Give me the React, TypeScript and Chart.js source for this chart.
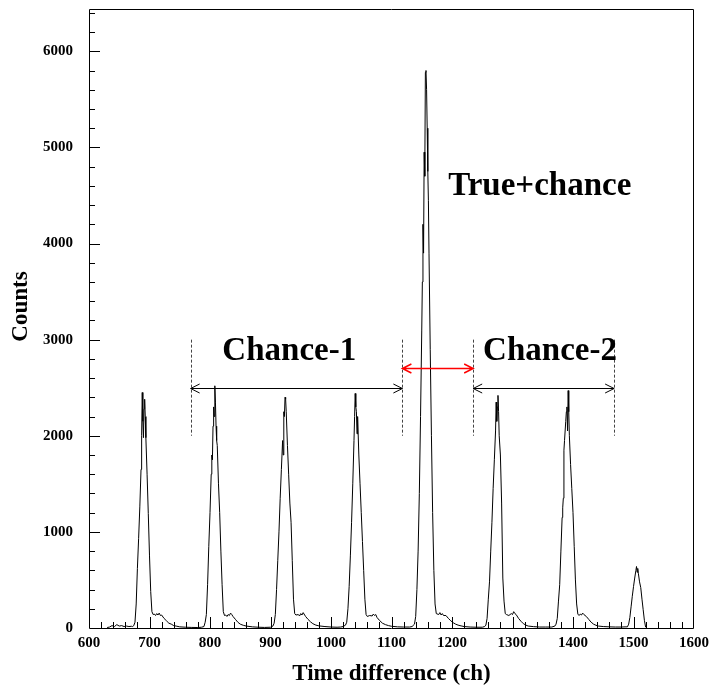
import React, { useEffect, useRef } from "react";
import { Chart, registerables } from "chart.js";

Chart.register(...registerables);

const FONT = '"Liberation Serif", "Times New Roman", serif';

// ---- axes ----
const xTicks = [600, 700, 800, 900, 1000, 1100, 1200, 1300, 1400, 1500, 1600];
const yTicks = [0, 1000, 2000, 3000, 4000, 5000, 6000];
const xRange = [600, 1600];
const yRange = [0, 6440];
const xMinorStep = 20;
const yMinorStep = 200;
const xTitle = "Time difference (ch)";
const yTitle = "Counts";

// ---- histogram (channel, counts) ----
const chLead = [630, 634, 638, 642, 646, 650, 654, 658, 662, 666, 670];
const cntLead = [5, 10, 25, 15, 35, 20, 25, 15, 20, 15, 18];

const ch690 = [672, 674, 676, 678, 680, 682, 684, 686, 687, 688, 689, 690, 691, 692, 693, 694, 696, 698, 700, 702, 704, 706, 708, 710, 712, 714, 716, 718, 720, 724, 728, 732, 736, 740, 744, 750, 760, 770, 780];
const cnt690 = [15, 25, 60, 250, 620, 930, 1260, 1650, 2000, 2450, 2150, 1980, 2280, 2380, 2200, 1980, 1600, 1190, 750, 380, 170, 140, 145, 130, 150, 135, 155, 130, 135, 100, 75, 50, 40, 25, 20, 12, 8, 6, 5];

const ch808 = [786, 790, 792, 794, 796, 798, 800, 802, 803, 804, 805, 806, 807, 808, 809, 810, 811, 812, 814, 816, 818, 820, 822, 824, 826, 828, 830, 832, 834, 836, 838, 842, 846, 850, 855, 860, 870, 880, 890];
const cnt808 = [8, 15, 60, 140, 450, 850, 1200, 1600, 1800, 1750, 2100, 2300, 2200, 2520, 2350, 2100, 1950, 1900, 1500, 1200, 800, 450, 170, 130, 135, 120, 140, 130, 155, 140, 120, 90, 60, 40, 28, 20, 12, 8, 6];

const ch924 = [900, 904, 906, 908, 910, 912, 914, 916, 918, 920, 921, 922, 923, 924, 925, 926, 928, 930, 932, 934, 936, 938, 940, 942, 946, 948, 950, 952, 954, 958, 962, 966, 970, 975, 980, 990, 1000, 1010];
const cnt924 = [8, 20, 50, 140, 400, 700, 1000, 1350, 1650, 1950, 1800, 2250, 2200, 2400, 2380, 2250, 1900, 1600, 1300, 1100, 700, 300, 150, 135, 140, 125, 150, 135, 160, 120, 90, 65, 45, 30, 22, 15, 10, 8];

const ch1041 = [1016, 1020, 1024, 1026, 1028, 1030, 1032, 1034, 1036, 1038, 1039, 1040, 1041, 1042, 1043, 1044, 1046, 1048, 1050, 1052, 1054, 1056, 1058, 1060, 1064, 1068, 1070, 1072, 1074, 1076, 1080, 1085, 1090, 1095, 1100, 1110, 1120, 1130];
const cnt1041 = [10, 15, 30, 60, 200, 430, 750, 1100, 1500, 1950, 2200, 2440, 2300, 2250, 2020, 2200, 1800, 1500, 1200, 900, 600, 300, 140, 120, 130, 125, 145, 130, 140, 110, 80, 50, 35, 25, 18, 12, 10, 10];

const ch1158 = [1134, 1138, 1140, 1142, 1144, 1146, 1148, 1150, 1151, 1152, 1153, 1154, 1155, 1156, 1157, 1158, 1159, 1160, 1161, 1162, 1164, 1166, 1168, 1170, 1172, 1174, 1178, 1180, 1182, 1184, 1186, 1190, 1194, 1198, 1202, 1206, 1210, 1215, 1220, 1230, 1240];
const cnt1158 = [15, 40, 120, 400, 800, 1400, 2200, 3100, 3600, 4200, 3900, 4950, 4700, 5780, 5800, 5600, 5200, 4750, 4450, 3900, 2900, 2000, 1200, 600, 250, 150, 140, 160, 135, 150, 130, 130, 100, 75, 55, 40, 30, 22, 15, 10, 8];

const ch1275 = [1250, 1254, 1256, 1258, 1260, 1262, 1264, 1266, 1268, 1270, 1272, 1273, 1274, 1275, 1276, 1277, 1278, 1280, 1282, 1284, 1286, 1288, 1290, 1294, 1298, 1300, 1302, 1304, 1306, 1310, 1314, 1318, 1322, 1326, 1335, 1345, 1355];
const cnt1275 = [8, 15, 30, 100, 300, 480, 800, 1100, 1450, 1750, 2050, 2350, 2150, 2300, 2420, 2250, 2000, 1800, 1300, 520, 280, 150, 140, 130, 150, 140, 170, 150, 140, 100, 70, 45, 30, 20, 14, 10, 10];

const ch1392 = [1365, 1370, 1372, 1374, 1376, 1378, 1380, 1382, 1383, 1384, 1385, 1386, 1388, 1389, 1390, 1391, 1392, 1393, 1394, 1396, 1398, 1400, 1402, 1404, 1406, 1408, 1410, 1412, 1414, 1416, 1418, 1422, 1426, 1430, 1434, 1438, 1442, 1450, 1460, 1470, 1480, 1486];
const cnt1392 = [10, 20, 40, 100, 280, 450, 800, 1150, 1250, 1350, 1850, 1950, 2150, 2250, 2300, 2050, 2470, 2250, 2000, 1700, 1450, 1200, 850, 500, 250, 145, 130, 145, 135, 155, 140, 120, 90, 60, 40, 28, 20, 15, 12, 10, 10, 12];

const ch1508 = [1490, 1492, 1494, 1496, 1498, 1500, 1502, 1504, 1505, 1506, 1507, 1508, 1510, 1512, 1514, 1516, 1518, 1520, 1522];
const cnt1508 = [12, 40, 110, 220, 330, 430, 520, 600, 640, 580, 620, 570, 480, 420, 300, 190, 80, 10, 0];

const segments: [number[], number[]][] = [
  [chLead, cntLead],
  [ch690, cnt690],
  [ch808, cnt808],
  [ch924, cnt924],
  [ch1041, cnt1041],
  [ch1158, cnt1158],
  [ch1275, cnt1275],
  [ch1392, cnt1392],
  [ch1508, cnt1508],
];

// ---- annotations ----
const regionEdges = [768, 1118, 1235, 1468];
const dashSpan = [2000, 3000];
const arrowStart = [768, 1235, 1118];
const arrowEnd = [1118, 1468, 1235];
const arrowLevel = [2500, 2500, 2700];
const arrowColors = ["#000000", "#000000", "#ff0000"];
const arrowWidths = [1, 1, 1.5];
const labelTexts = ["Chance-1", "Chance-2", "True+chance"];
const labelX = [931, 1362, 1345];
const labelY = [2785, 2785, 4503];

export default function App() {
  const ref = useRef<HTMLCanvasElement>(null);

  useEffect(() => {
    const canvas = ref.current;
    if (!canvas) return;
    const points: { x: number; y: number }[] = [];
    segments.forEach(([chs, cnts]) => {
      chs.forEach((c, i) => points.push({ x: c, y: cnts[i] }));
    });

    const decor = {
      id: "decor",
      afterDatasetsDraw(chart: any) {
        const { ctx, chartArea: a, scales } = chart;
        const x = scales.x;
        const y = scales.y;
        ctx.save();
        ctx.strokeStyle = "#000";
        ctx.lineWidth = 1;
        ctx.setLineDash([]);
        // tick marks (inside)
        ctx.beginPath();
        for (let v = xRange[0] + xMinorStep; v < xRange[1]; v += xMinorStep) {
          const px = Math.round(x.getPixelForValue(v)) + 0.5;
          const len = xTicks.includes(v) ? 11 : 6;
          ctx.moveTo(px, a.bottom);
          ctx.lineTo(px, a.bottom - len);
        }
        for (let v = yRange[0] + yMinorStep; v < yRange[1]; v += yMinorStep) {
          const py = Math.round(y.getPixelForValue(v)) + 0.5;
          const len = yTicks.includes(v) ? 11 : 6;
          ctx.moveTo(a.left, py);
          ctx.lineTo(a.left + len, py);
        }
        ctx.stroke();
        // frame
        ctx.beginPath();
        ctx.moveTo(a.left + 0.5, a.top + 0.5);
        ctx.lineTo(a.right - 0.5, a.top + 0.5);
        ctx.lineTo(a.right - 0.5, a.bottom + 0.5);
        ctx.lineTo(a.left + 0.5, a.bottom + 0.5);
        ctx.closePath();
        ctx.stroke();

        // dashed region edges
        ctx.strokeStyle = "#444";
        ctx.setLineDash([3, 2]);
        ctx.beginPath();
        regionEdges.forEach((e) => {
          const px = Math.round(x.getPixelForValue(e)) + 0.5;
          ctx.moveTo(px, y.getPixelForValue(dashSpan[1]));
          ctx.lineTo(px, y.getPixelForValue(dashSpan[0]));
        });
        ctx.stroke();
        ctx.setLineDash([]);

        // arrows
        arrowStart.forEach((s, i) => {
          const x1 = x.getPixelForValue(s);
          const x2 = x.getPixelForValue(arrowEnd[i]);
          const py = Math.round(y.getPixelForValue(arrowLevel[i])) + 0.5;
          ctx.strokeStyle = arrowColors[i];
          ctx.lineWidth = arrowWidths[i];
          ctx.beginPath();
          ctx.moveTo(x1, py);
          ctx.lineTo(x2, py);
          ctx.moveTo(x1 + 9, py - 4.5);
          ctx.lineTo(x1, py);
          ctx.lineTo(x1 + 9, py + 4.5);
          ctx.moveTo(x2 - 9, py - 4.5);
          ctx.lineTo(x2, py);
          ctx.lineTo(x2 - 9, py + 4.5);
          ctx.stroke();
        });

        // labels
        ctx.fillStyle = "#000";
        ctx.font = `bold 33px ${FONT}`;
        ctx.textAlign = "center";
        ctx.textBaseline = "alphabetic";
        labelTexts.forEach((t, i) => {
          ctx.fillText(t, x.getPixelForValue(labelX[i]), y.getPixelForValue(labelY[i]));
        });

        // y axis title (ROOT places it slightly above the centre)
        ctx.font = `bold 23px ${FONT}`;
        ctx.textBaseline = "middle";
        ctx.translate(a.left - 68, (a.top + a.bottom) / 2 - 12);
        ctx.rotate(-Math.PI / 2);
        ctx.fillText(yTitle, 0, 0);
        ctx.restore();
      },
    };

    const chart = new Chart(canvas, {
      type: "line",
      data: {
        datasets: [
          {
            data: points,
            borderColor: "#000000",
            borderWidth: 1,
            pointRadius: 0,
            tension: 0,
            fill: false,
          },
        ],
      },
      options: {
        animation: false,
        responsive: false,
        maintainAspectRatio: false,
        devicePixelRatio: 1,
        layout: { padding: { top: 5, right: 16, left: 0, bottom: 0 } },
        plugins: {
          legend: { display: false },
          tooltip: { enabled: false },
        },
        scales: {
          x: {
            type: "linear",
            min: xRange[0],
            max: xRange[1],
            afterFit: (s: any) => {
              s.height = 62;
            },
            afterBuildTicks: (s: any) => {
              s.ticks = xTicks.map((v) => ({ value: v }));
            },
            grid: { display: false, drawTicks: true, tickLength: 6 },
            border: { display: false },
            ticks: {
              padding: 0,
              maxRotation: 0,
              autoSkip: false,
              color: "#000",
              font: { family: FONT, size: 15, weight: "bold" },
              callback: (v: any) => String(v),
            },
            title: {
              display: true,
              text: xTitle,
              color: "#000",
              font: { family: FONT, size: 23, weight: "bold" },
              padding: { top: 0, bottom: 2 },
            },
          },
          y: {
            type: "linear",
            min: yRange[0],
            max: yRange[1],
            afterFit: (s: any) => {
              s.width = 89;
            },
            afterBuildTicks: (s: any) => {
              s.ticks = yTicks.map((v) => ({ value: v }));
            },
            grid: { display: false, drawTicks: true, tickLength: 16 },
            border: { display: false },
            ticks: {
              padding: 0,
              autoSkip: false,
              color: "#000",
              font: { family: FONT, size: 15, weight: "bold" },
              callback: (v: any) => String(v),
            },
            title: { display: false },
          },
        },
      },
      plugins: [decor],
    } as any);

    return () => chart.destroy();
  }, []);

  return (
    <div style={{ position: "absolute", left: 0, top: 0, width: 710, height: 690, background: "#fff" }}>
      <canvas ref={ref} width={710} height={690} style={{ display: "block", width: 710, height: 690 }} />
    </div>
  );
}
